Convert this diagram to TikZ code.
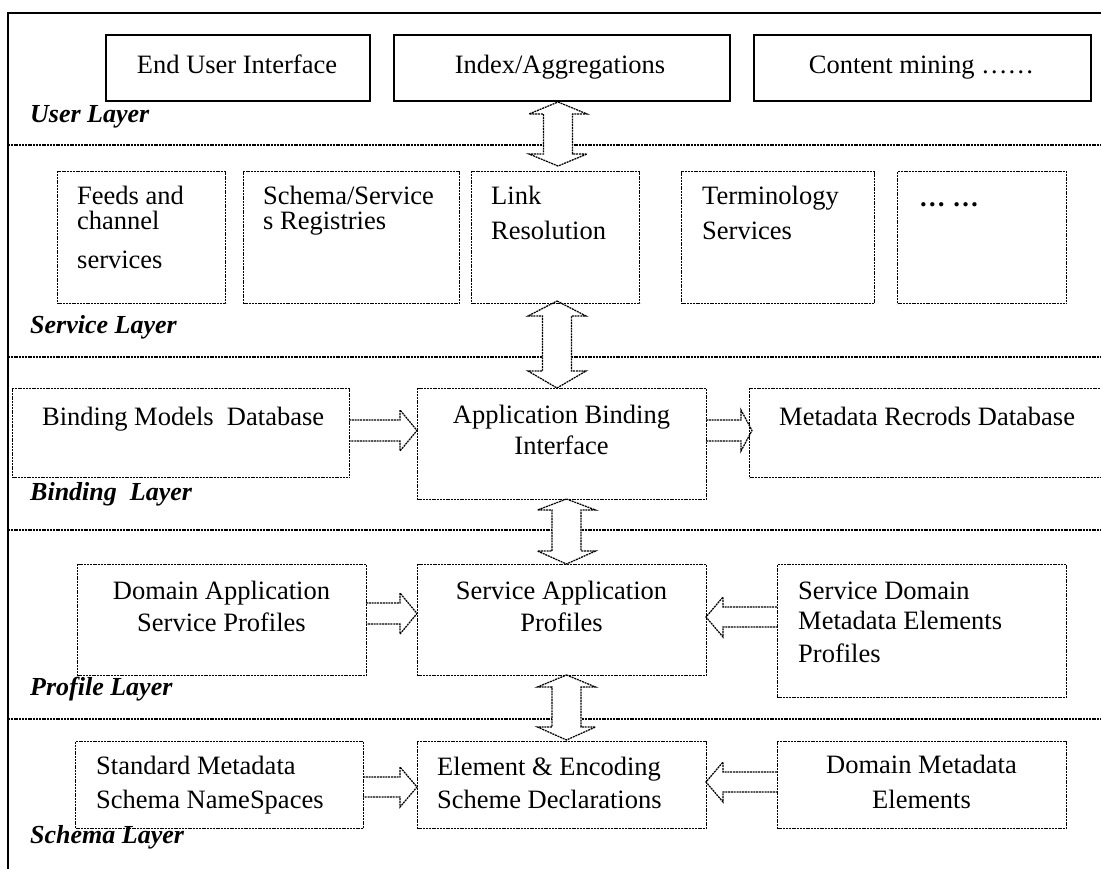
\documentclass[tikz,border=0pt]{standalone}
\usepackage{fontspec}
\setmainfont{Liberation Serif}
\newcommand\vdarr[5]{\draw[blk] (#1,#2) -- ({#1+29},#3) -- ({#1+14.5},#3) -- ({#1+14.5},#4) -- ({#1+29},#4) -- (#1,#5) -- ({#1-29},#4) -- ({#1-14.5},#4) -- ({#1-14.5},#3) -- ({#1-29},#3) -- cycle;}
\newcommand\hharr[5]{\draw[blk] (#1,{#4-#5}) -- (#2,{#4-#5}) -- (#2,{#4-#5-10}) -- (#3,#4) -- (#2,{#4+#5+10}) -- (#2,{#4+#5}) -- (#1,{#4+#5});}
\begin{document}
\begin{tikzpicture}[x={(1pt,0pt)},y={(0pt,-1pt)},
  dotline/.style={line width=1.25pt, dash pattern=on 2pt off 0.8pt},
  frameline/.style={line width=1.6pt},
  sbox/.style={draw, line width=1.6pt, inner sep=0pt, anchor=north west},
  dbox/.style={draw, dotline, inner sep=0pt, anchor=north west},
  txt/.style={inner sep=0pt, font=\fontsize{26.5}{32}\selectfont},
  ltxt/.style={txt, anchor=north west, align=left},
  ctxt/.style={txt, anchor=north, align=center},
  lay/.style={inner sep=0pt, anchor=base west, font=\fontsize{26}{32}\selectfont\bfseries\itshape},
  blk/.style={dotline, fill=white}]
\useasboundingbox (0,0) rectangle (1101,868);
\clip (0,0) rectangle (1101,868);

% frame
\draw[frameline] (8,870) -- (8,12.7) -- (1103,12.7);

% layer separators
\draw[dotline] (8,145) -- (1101,145);
\draw[dotline] (8,357) -- (1101,357);
\draw[dotline] (8,530) -- (1101,530);
\draw[dotline] (8,719) -- (1101,719);

% block arrows
\vdarr{558}{102}{114}{154}{166}
\vdarr{557}{301}{316}{371}{388}
\vdarr{566.5}{499}{510}{551}{564}
\vdarr{566.5}{675}{687}{727}{740}
\hharr{349}{400}{417}{430.5}{10.5}
\hharr{706}{741}{752}{430.5}{10.5}
\hharr{366}{400}{417}{613.5}{10.5}
\hharr{777}{723}{706}{617}{10}
\hharr{363}{400}{417}{787}{10}
\hharr{777}{723}{706}{782}{10}

% User layer
\node[sbox, minimum width=264pt, minimum height=66pt] (eui) at (105,34) {};
\node[sbox, minimum width=336pt, minimum height=66pt] (idx) at (393,34) {};
\node[sbox, minimum width=337pt, minimum height=66pt] (cm) at (753,34) {};
\node[ctxt] (euit) at (237,50.6) {\strut End User Interface};
\node[ctxt] (idxt) at (560,50.6) {\strut Index/Aggregations};
\node[ctxt] (cmt) at (921.5,50.6) {\strut Content mining ……};
\node[lay] (ul) at (30,122) {User Layer};

% Service layer
\node[dbox, minimum width=168pt, minimum height=132pt] (fcs) at (57,171) {};
\node[dbox, minimum width=216pt, minimum height=132pt] (ssr) at (243,171) {};
\node[dbox, minimum width=168pt, minimum height=132pt] (lr) at (471,171) {};
\node[dbox, minimum width=193pt, minimum height=132pt] (ts) at (681,171) {};
\node[dbox, minimum width=169pt, minimum height=132pt] (dts) at (897,171) {};
\node[ltxt] (fcst) at (77,181.6) {\strut Feeds and\\[-7pt]channel\\[7pt]services};
\node[ltxt] (ssrt) at (263,181.6) {\strut Schema/Service\\[-7pt]s Registries};
\node[ltxt] (lrt) at (491,181.6) {\strut Link\\[3pt]Resolution};
\node[ltxt] (tst) at (702,181.6) {\strut Terminology\\[3pt]Services};
\node[ltxt] (dtst) at (919,183.6) {\strut\bfseries … …};
\node[lay] (sl) at (30,333) {Service Layer};

% Binding layer
\node[dbox, minimum width=337pt, minimum height=89pt] (bmd) at (12,388) {};
\node[dbox, minimum width=289pt, minimum height=111pt] (abi) at (417,388) {};
\node[dbox, minimum width=380pt, minimum height=89pt] (mrd) at (749,388) {};
\node[ltxt] (bmdt) at (42,402.6) {\strut Binding Models\ \ Database};
\node[ctxt] (abit) at (561.5,400.6) {\strut Application Binding\\[-1pt]Interface};
\node[ltxt] (mrdt) at (779,402.6) {\strut Metadata Recrods Database};
\node[lay] (bl) at (30,500) {Binding\ \ Layer};

% Profile layer
\node[dbox, minimum width=289pt, minimum height=111pt] (dasp) at (77,564) {};
\node[dbox, minimum width=289pt, minimum height=111pt] (sap) at (417,564) {};
\node[dbox, minimum width=289pt, minimum height=133pt] (sdmep) at (777,564) {};
\node[ctxt] (daspt) at (221.5,576.6) {\strut Domain Application\\Service Profiles};
\node[ctxt] (sapt) at (561.5,576.6) {\strut Service Application\\Profiles};
\node[ltxt] (sdmept) at (798,576.6) {\strut Service Domain\\[-2pt]Metadata Elements\\[1pt]Profiles};
\node[lay] (pl) at (30,695) {Profile Layer};

% Schema layer
\node[dbox, minimum width=288pt, minimum height=87pt] (smsn) at (75,741) {};
\node[dbox, minimum width=289pt, minimum height=87pt] (eesd) at (417,741) {};
\node[dbox, minimum width=289pt, minimum height=87pt] (dme) at (777,741) {};
\node[ltxt] (smsnt) at (96,751.6) {\strut Standard Metadata\\[2pt]Schema NameSpaces};
\node[ltxt] (eesdt) at (437,752.6) {\strut Element \& Encoding\\[1pt]Scheme Declarations};
\node[ctxt] (dmet) at (921.5,750.6) {\strut Domain Metadata\\[3pt]Elements};
\node[lay] (scl) at (30,843) {Schema Layer};
\end{tikzpicture}
\end{document}
